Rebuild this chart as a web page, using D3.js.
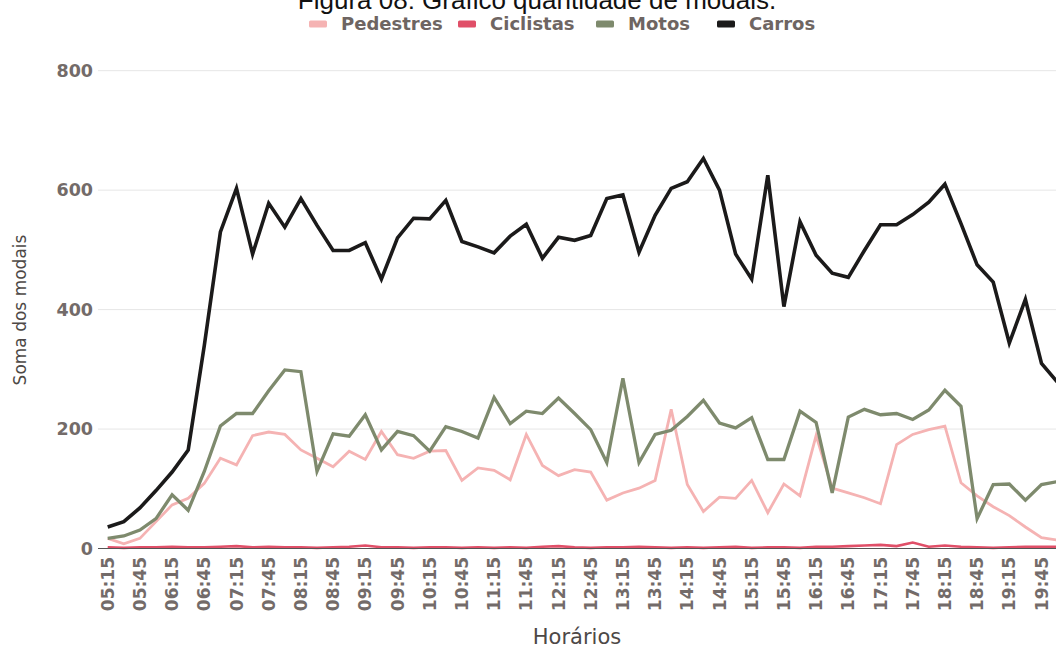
<!DOCTYPE html>
<html lang="pt">
<head>
<meta charset="utf-8">
<script src="https://cdn.jsdelivr.net/npm/d3@7"></script>
<style>
  html, body { margin: 0; padding: 0; background: #fff; overflow: hidden; }
  #chart { width: 1056px; height: 648px; overflow: hidden; }
  .grid-line { stroke: #e6e6e6; stroke-width: 1; }
  .tick-label { font-family: "DejaVu Sans", sans-serif; font-weight: bold; fill: #736b69; }
  .axis-title { font-family: "DejaVu Sans", sans-serif; fill: #4d4846; }
  .legend-text { font-family: "DejaVu Sans", sans-serif; font-weight: bold; fill: #6e6562; }
</style>
</head>
<body>
<div id="chart"></div>
<script>
// horarios de contagem (intervalos de 15 min)
const times = ['05:15','05:30','05:45','06:00','06:15','06:30','06:45','07:00','07:15','07:30',
  '07:45','08:00','08:15','08:30','08:45','09:00','09:15','09:30','09:45','10:00',
  '10:15','10:30','10:45','11:00','11:15','11:30','11:45','12:00','12:15','12:30',
  '12:45','13:00','13:15','13:30','13:45','14:00','14:15','14:30','14:45','15:00',
  '15:15','15:30','15:45','16:00','16:15','16:30','16:45','17:00','17:15','17:30',
  '17:45','18:00','18:15','18:30','18:45','19:00','19:15','19:30','19:45','20:00'];

const pedestres = [17,8,17,45,73,84,109,151,140,189,195,191,165,151,137,163,149,196,157,151,
  163,164,114,135,131,115,191,139,122,132,128,81,93,101,114,233,107,62,86,84,
  114,60,108,88,189,101,93,85,75,174,191,199,205,110,88,70,55,36,18,14];

const ciclistas = [2,1,2,2,3,2,2,3,4,2,3,2,2,1,2,3,5,2,2,1,
  2,2,1,2,1,2,1,3,4,2,1,2,2,3,2,1,2,1,2,3,
  1,2,2,1,3,3,4,5,6,4,10,3,5,3,2,1,2,3,3,3];

const motos = [17,21,31,50,90,64,129,205,226,226,264,299,296,129,192,188,224,165,196,189,
  163,204,196,185,253,209,230,226,252,226,199,144,285,144,191,198,221,248,210,202,
  219,149,149,230,211,93,220,233,224,226,216,232,265,238,50,107,108,81,107,112];

const carros = [36,45,68,97,128,165,340,530,603,493,578,538,586,541,499,499,512,451,520,553,
  552,583,514,505,495,523,543,486,521,516,524,586,592,496,558,603,614,653,600,493,
  451,625,405,547,491,461,454,499,542,542,559,580,610,544,475,446,344,417,310,278];

const yTicks = [0, 200, 400, 600, 800];
const seriesNames = ['Pedestres', 'Ciclistas', 'Motos', 'Carros'];
const seriesColors = ['#f5b3b3', '#e04f68', '#7e8a6d', '#1b1a1a'];
const seriesWidths = [2.8, 2.6, 3.3, 3.6];

const series = [pedestres, ciclistas, motos, carros].map((values, k) => ({
  name: seriesNames[k],
  color: seriesColors[k],
  width: seriesWidths[k],
  values: values.map((v, i) => ({ time: times[i], value: v }))
}));

const svg = d3.select('#chart')
  .append('svg')
  .attr('width', 1070)
  .attr('height', 648);

const x = d3.scalePoint()
  .domain(times)
  .range([107.7, 107.7 + 16.1 * (times.length - 1)]);

const y = d3.scaleLinear()
  .domain([0, 800])
  .range([548.5, 70.7]);

// titulo (cortado no topo como na figura original)
svg.append('text')
  .attr('x', 537)
  .attr('y', 9)
  .attr('text-anchor', 'middle')
  .style('font-family', '"Liberation Sans", Arial, sans-serif')
  .style('font-size', '26px')
  .style('fill', '#111')
  .text('Figura 08: Gráfico quantidade de modais.');

// grade horizontal
svg.append('g')
  .selectAll('line')
  .data(yTicks.filter(d => d > 0))
  .enter()
  .append('line')
  .attr('class', 'grid-line')
  .attr('x1', 98)
  .attr('x2', 1070)
  .attr('y1', d => y(d))
  .attr('y2', d => y(d));

svg.append('g')
  .selectAll('text')
  .data(yTicks)
  .enter()
  .append('text')
  .attr('class', 'tick-label')
  .attr('x', 93)
  .attr('y', d => y(d))
  .attr('dy', '0.36em')
  .attr('text-anchor', 'end')
  .style('font-size', '17.5px')
  .text(d => d);

// linhas
const line = d3.line()
  .x(d => x(d.time))
  .y(d => y(d.value));

svg.append('g')
  .selectAll('path')
  .data(series)
  .enter()
  .append('path')
  .attr('fill', 'none')
  .attr('stroke', d => d.color)
  .attr('stroke-width', d => d.width)
  .attr('stroke-linejoin', 'miter')
  .attr('d', d => line(d.values));

// eixo x
svg.append('line')
  .attr('x1', 98)
  .attr('x2', 1070)
  .attr('y1', y(0))
  .attr('y2', y(0))
  .attr('stroke', '#555')
  .attr('stroke-width', 1);

svg.append('g')
  .selectAll('text')
  .data(times.filter((t, i) => i % 2 === 0))
  .enter()
  .append('text')
  .attr('class', 'tick-label')
  .attr('transform', d => `translate(${x(d)},557) rotate(-90)`)
  .attr('dy', '0.36em')
  .attr('text-anchor', 'end')
  .style('font-size', '17px')
  .text(d => d);

svg.append('text')
  .attr('class', 'axis-title')
  .attr('x', 577)
  .attr('y', 644)
  .attr('text-anchor', 'middle')
  .style('font-size', '21px')
  .text('Horários');

svg.append('text')
  .attr('class', 'axis-title')
  .attr('transform', 'translate(26,310) rotate(-90)')
  .attr('text-anchor', 'middle')
  .style('font-size', '17px')
  .text('Soma dos modais');

// legenda
const legendX = [309, 458, 596, 717];
const legend = svg.append('g')
  .selectAll('g')
  .data(series)
  .enter()
  .append('g')
  .attr('transform', (d, i) => `translate(${legendX[i]},24)`);

legend.append('rect')
  .attr('x', 0)
  .attr('y', -3.5)
  .attr('width', 18)
  .attr('height', 7)
  .attr('rx', 1.5)
  .attr('fill', d => d.color);

legend.append('text')
  .attr('class', 'legend-text')
  .attr('x', 32)
  .attr('dy', '0.36em')
  .style('font-size', '18px')
  .text(d => d.name);
</script>
</body>
</html>
